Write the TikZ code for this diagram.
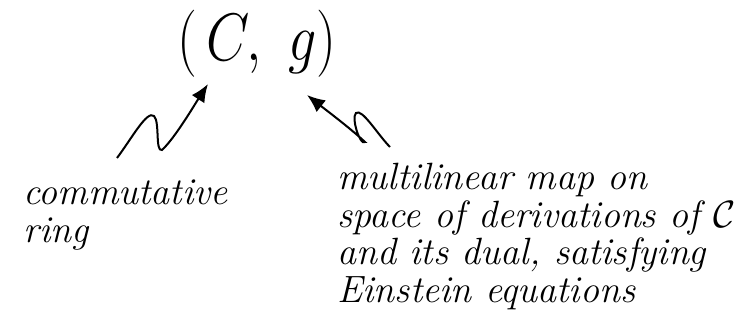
\RequirePackage{fix-cm}
\documentclass[tikz,border=0pt]{standalone}
\usepackage{amsmath,amssymb}
\usepackage{graphicx}
\usepackage{tikz}
\usetikzlibrary{arrows.meta, positioning, calc}

\tikzset{
  note/.style={font=\fontsize{19}{18.7}\selectfont\itshape, align=left,
    inner sep=0pt, anchor=base west},
  squig/.style={line width=1pt, -{Latex[length=9pt,width=7.5pt]}}
}

\begin{document}
\begin{tikzpicture}[x=0.5pt,y=-0.5pt]
  \useasboundingbox (0,0) rectangle (750,332);
  % the pair
  \node[font=\fontsize{28}{34}\selectfont, inner sep=0pt, anchor=base]
    (pair) at (257,61) {\scalebox{1}[1.2]{$(\,C,\ g)$}};
  % labels (anchored at the baseline of their last line)
  \node[note] (ring) at (23,242) {commutative\\ring};
  \node[note] (metric) at (337,302) {multilinear map on\\space of derivations of $\mathcal{C}$\\and its dual, satisfying\\Einstein equations};
  % ends of the squiggly arrows
  \coordinate (ringtail) at (117,158);
  \coordinate (ringtip) at (208,84);
  \coordinate (mettail) at (390,147);
  \coordinate (mettip) at (307,95);
  % squiggly arrows
  \draw[squig] (ringtail) .. controls (132,138) and (147,110) .. (154,116)
    .. controls (160,122) and (155,152) .. (162,150)
    .. controls (175,138) and (195,104) .. (ringtip);
  \draw[squig] (mettail) .. controls (378,135) and (362,108) .. (356,113)
    .. controls (351,118) and (360,146) .. (365,142)
    .. controls (350,128) and (326,110) .. (mettip);
\end{tikzpicture}
\end{document}
